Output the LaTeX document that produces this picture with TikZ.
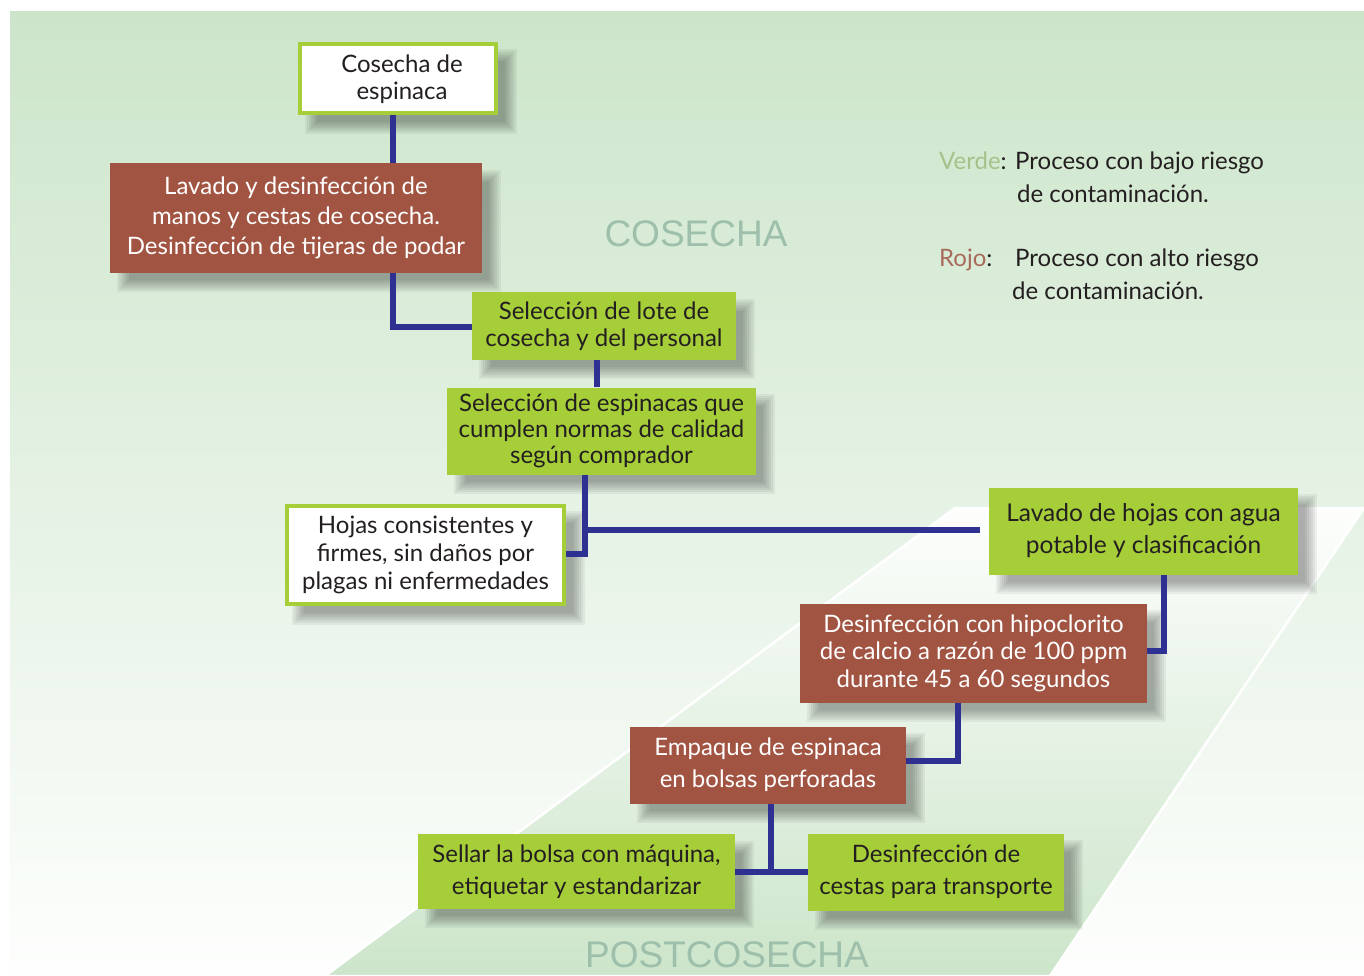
\documentclass[tikz,border=0pt]{standalone}
\usepackage{fontspec}
\setmainfont{Lato}
\newfontfamily\etapafont{Liberation Sans}
\definecolor{fondoverde}{HTML}{CCE5CA}
\definecolor{verdecaja}{HTML}{A6CE39}
\definecolor{rojocaja}{HTML}{A25442}
\definecolor{azullinea}{HTML}{2E3192}
\definecolor{textooscuro}{HTML}{231F20}
\definecolor{etapagris}{HTML}{9DBFAB}
\definecolor{verdeley}{HTML}{A8C08A}
\definecolor{rojoley}{HTML}{A86A5A}
\pgfdeclarelayer{fondo}
\pgfdeclarelayer{sombras}
\pgfsetlayers{fondo,sombras,main}
\begin{document}
\begin{tikzpicture}[x=1pt,y=-1pt,
    caja/.style={align=center,inner sep=0pt,font=\fontsize{24}{30}\selectfont},
    cajaverde/.style={caja,fill=verdecaja,text=textooscuro},
    cajaroja/.style={caja,fill=rojocaja,text=white},
    cajablanca/.style={caja,fill=white,draw=verdecaja,line width=4pt,text=textooscuro},
    conector/.style={draw=azullinea,line width=6pt},
    etapa/.style={text=etapagris,font=\etapafont\fontsize{37}{40}\selectfont,inner sep=0pt},
    leyenda/.style={text=textooscuro,font=\fontsize{24}{30}\selectfont,inner sep=0pt,anchor=base west}]

  % fondo y camino
  \useasboundingbox (0,0) rectangle (1364,976);
  \begin{pgfonlayer}{fondo}
    \fill[white] (0,0) rectangle (1364,976);
    \shade[top color=fondoverde,bottom color=white!97!fondoverde] (10,12) rectangle (1364,976);
    \shade[top color=white!96!fondoverde,bottom color=fondoverde]
      (955,508) -- (1364,508) -- (1050,976) -- (325,976) -- cycle;
    \draw[white,line width=2.5pt,line join=round]
      (955,508) -- (1364,508) -- (1050,976) -- (325,976) -- cycle;
  \end{pgfonlayer}

  \node[etapa,anchor=base] (cosechalbl) at (696,247) {COSECHA};
  \node[etapa,anchor=base] (postcosecha) at (727,967) {POSTCOSECHA};

  % leyenda
  \node[leyenda] (verdekey) at (939,170) {\textcolor{verdeley}{Verde}:};
  \node[leyenda] (verdetxt) at (1015,170) {Proceso con bajo riesgo};
  \node[leyenda] (verdetxt2) at (1017,203) {de contaminación.};
  \node[leyenda] (rojokey) at (939,266) {\textcolor{rojoley}{Rojo}:};
  \node[leyenda] (rojotxt) at (1015,266) {Proceso con alto riesgo};
  \node[leyenda] (rojotxt2) at (1012,299) {de contaminación.};

  % cajas
  \node[cajablanca,minimum width=196pt,minimum height=69pt,font=\fontsize{24}{27}\selectfont] (cosecha) at (398,79)
    {\hspace{8pt}Cosecha de\\\hspace{8pt}espinaca};
  \node[cajaroja,minimum width=372pt,minimum height=109pt] (lavado) at (296,218)
    {Lavado y desinfección de\\manos y cestas de cosecha.\\Desinfección de tijeras de podar};
  \node[cajaverde,minimum width=264pt,minimum height=68pt,font=\fontsize{24}{27}\selectfont] (lote) at (604,326)
    {Selección de lote de\\cosecha y del personal};
  \node[cajaverde,minimum width=309pt,minimum height=87pt,font=\fontsize{24}{26}\selectfont] (seleccion) at (601.5,431)
    {Selección de espinacas que\\cumplen normas de calidad\\según comprador};
  \node[cajablanca,minimum width=277pt,minimum height=98pt,font=\fontsize{24}{28}\selectfont] (hojas) at (425.5,555)
    {Hojas consistentes y\\firmes, sin daños por\\plagas ni enfermedades};
  \node[cajaverde,minimum width=309pt,minimum height=87pt,font=\fontsize{24.5}{32}\selectfont] (lavhojas) at (1143.5,531)
    {Lavado de hojas con agua\\potable y clasificación};
  \node[cajaroja,minimum width=347pt,minimum height=99pt,font=\fontsize{24}{27.5}\selectfont] (hipoclorito) at (973.5,653)
    {Desinfección con hipoclorito\\de calcio a razón de 100 ppm\\durante 45 a 60 segundos};
  \node[cajaroja,minimum width=276pt,minimum height=77pt,font=\fontsize{24}{32}\selectfont] (empaque) at (768,765)
    {Empaque de espinaca\\en bolsas perforadas};
  \node[cajaverde,minimum width=317pt,minimum height=75pt,font=\fontsize{24}{32}\selectfont] (sellar) at (576.5,871.5)
    {Sellar la bolsa con máquina,\\etiquetar y estandarizar};
  \node[cajaverde,minimum width=256pt,minimum height=77pt,font=\fontsize{24}{32}\selectfont] (cestas) at (936,872)
    {Desinfección de\\cestas para transporte};

  % sombras difusas
  \begin{pgfonlayer}{sombras}
    \foreach \caja in {cosecha,lavado,lote,seleccion,hojas,lavhojas,hipoclorito,empaque,sellar,cestas}
      \foreach \e in {-6,-4,...,6}
        \fill[black,opacity=0.05] ([shift={(13-\e,13-\e)}]\caja.north west) rectangle ([shift={(13+\e,13+\e)}]\caja.south east);
  \end{pgfonlayer}

  % conectores
  \draw[conector] ([xshift=-5pt]cosecha.south) -- ([xshift=-5pt]cosecha.south |- lavado.north);
  \draw[conector] ([xshift=97pt]lavado.south) |- ([yshift=-1pt]lote.west);
  \draw[conector] ([xshift=-7pt]lote.south) -- ([xshift=-7pt]lote.south |- seleccion.north);
  \draw[conector] ([xshift=-16.5pt]seleccion.south) |- ([yshift=1pt]hojas.east);
  \draw[conector] ([xshift=-16.5pt]seleccion.south) |- ([xshift=-9pt,yshift=1pt]lavhojas.west);
  \draw[conector] ([xshift=20.5pt]lavhojas.south) |- ([yshift=2.5pt]hipoclorito.east);
  \draw[conector] ([xshift=-15.5pt]hipoclorito.south) |- ([yshift=4pt]empaque.east);
  \draw[conector] ([xshift=3pt]empaque.south) -- ([xshift=3pt]empaque.south |- sellar.east);
  \draw[conector] (sellar.east) -- (sellar.east -| cestas.west);
\end{tikzpicture}
\end{document}
